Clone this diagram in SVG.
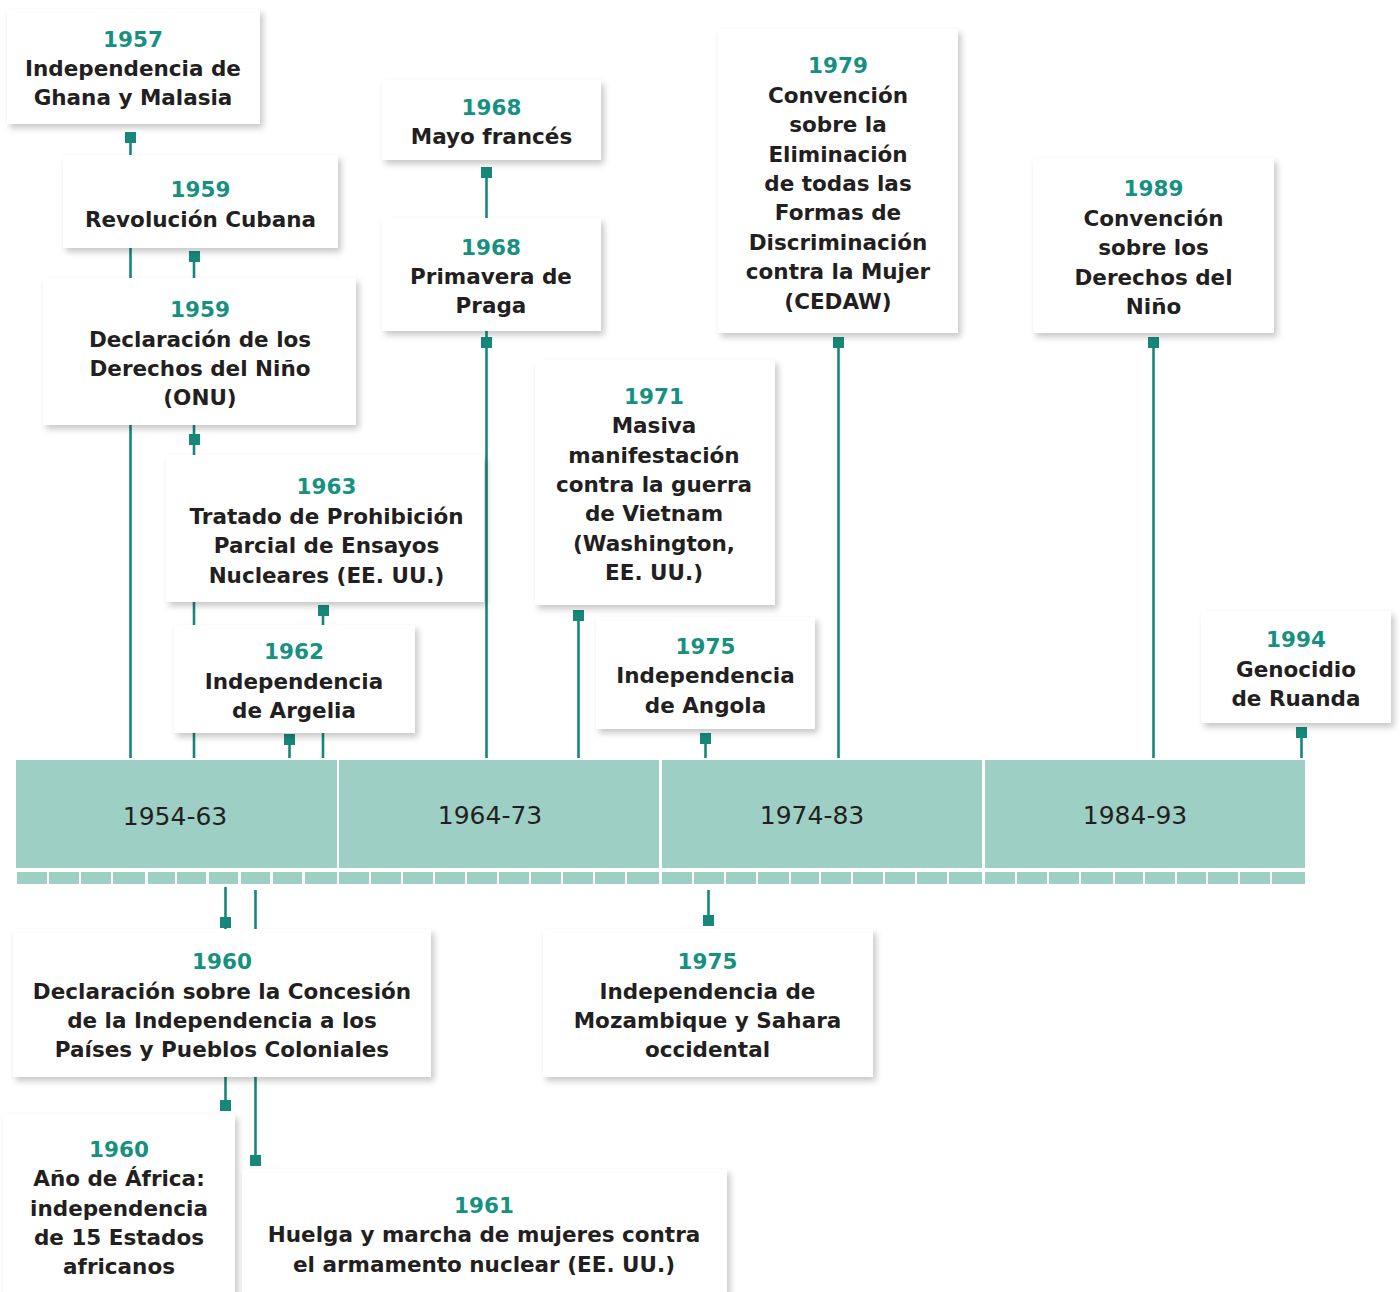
<svg xmlns="http://www.w3.org/2000/svg" width="1400" height="1292" viewBox="0 0 1400 1292">
<style>
.box{fill:#ffffff;filter:url(#sh);}
.t{font-family:"DejaVu Sans","Liberation Sans",sans-serif;font-weight:bold;font-size:21.5px;fill:#231f20;text-anchor:middle;}
.y{fill:#17917f;}
.lbl{font-family:"DejaVu Sans","Liberation Sans",sans-serif;font-size:25px;fill:#231f20;text-anchor:middle;}
.bar{fill:#9ecfc4;}
.tick{fill:#9ecfc4;}
.ln{stroke:#17877a;stroke-width:2.6;fill:none;}
.mk{fill:#17877a;}
</style>
<defs>
<filter id="sh" x="-10%" y="-10%" width="125%" height="130%">
<feDropShadow dx="3" dy="4" stdDeviation="3" flood-color="#000000" flood-opacity="0.22"/>
</filter>
</defs>
<rect x="0" y="0" width="1400" height="1292" fill="#ffffff"/>

<g id="timeline">
<rect class="bar" x="16" y="760" width="321" height="108"/>
<rect class="bar" x="339" y="760" width="320" height="108"/>
<rect class="bar" x="662" y="760" width="320" height="108"/>
<rect class="bar" x="985" y="760" width="320" height="108"/>
<text class="lbl" x="175" y="825">1954-63</text>
<text class="lbl" x="490" y="824">1964-73</text>
<text class="lbl" x="812" y="824">1974-83</text>
<text class="lbl" x="1135" y="824">1984-93</text>
<g id="ticks">
<rect class="tick" x="17" y="872" width="30" height="12"/>
<rect class="tick" x="49" y="872" width="30" height="12"/>
<rect class="tick" x="81" y="872" width="30" height="12"/>
<rect class="tick" x="113" y="872" width="32" height="12"/>
<rect class="tick" x="148" y="872" width="27" height="12"/>
<rect class="tick" x="177" y="872" width="29" height="12"/>
<rect class="tick" x="209" y="872" width="29" height="12"/>
<rect class="tick" x="241" y="872" width="29" height="12"/>
<rect class="tick" x="273" y="872" width="29" height="12"/>
<rect class="tick" x="305" y="872" width="32" height="12"/>
<rect class="tick" x="339" y="872" width="30" height="12"/>
<rect class="tick" x="371" y="872" width="30" height="12"/>
<rect class="tick" x="403" y="872" width="30" height="12"/>
<rect class="tick" x="435" y="872" width="30" height="12"/>
<rect class="tick" x="467" y="872" width="30" height="12"/>
<rect class="tick" x="499" y="872" width="30" height="12"/>
<rect class="tick" x="531" y="872" width="30" height="12"/>
<rect class="tick" x="563" y="872" width="30" height="12"/>
<rect class="tick" x="595" y="872" width="30" height="12"/>
<rect class="tick" x="627" y="872" width="32" height="12"/>
<rect class="tick" x="662" y="872" width="30" height="12"/>
<rect class="tick" x="694" y="872" width="30" height="12"/>
<rect class="tick" x="726" y="872" width="30" height="12"/>
<rect class="tick" x="758" y="872" width="31" height="12"/>
<rect class="tick" x="791" y="872" width="28" height="12"/>
<rect class="tick" x="821" y="872" width="30" height="12"/>
<rect class="tick" x="853" y="872" width="30" height="12"/>
<rect class="tick" x="885" y="872" width="30" height="12"/>
<rect class="tick" x="917" y="872" width="30" height="12"/>
<rect class="tick" x="949" y="872" width="33" height="12"/>
<rect class="tick" x="985" y="872" width="30" height="12"/>
<rect class="tick" x="1017" y="872" width="30" height="12"/>
<rect class="tick" x="1049" y="872" width="30" height="12"/>
<rect class="tick" x="1081" y="872" width="32" height="12"/>
<rect class="tick" x="1115" y="872" width="28" height="12"/>
<rect class="tick" x="1145" y="872" width="30" height="12"/>
<rect class="tick" x="1177" y="872" width="29" height="12"/>
<rect class="tick" x="1208" y="872" width="30" height="12"/>
<rect class="tick" x="1240" y="872" width="30" height="12"/>
<rect class="tick" x="1272" y="872" width="33" height="12"/>
</g>
</g>

<g id="connectors">
<line class="ln" x1="130.5" y1="140" x2="130.5" y2="758"/>
<rect class="mk" x="125" y="132" width="11" height="11"/>
<line class="ln" x1="194" y1="260" x2="194" y2="758"/>
<rect class="mk" x="189" y="251" width="11" height="11"/>
<rect class="mk" x="189" y="434" width="11" height="11"/>
<line class="ln" x1="323" y1="614" x2="323" y2="758"/>
<rect class="mk" x="318" y="605" width="11" height="11"/>
<line class="ln" x1="289.5" y1="743" x2="289.5" y2="758"/>
<rect class="mk" x="284" y="734" width="11" height="11"/>
<line class="ln" x1="486.5" y1="176" x2="486.5" y2="758"/>
<rect class="mk" x="481" y="167" width="11" height="11"/>
<rect class="mk" x="481" y="337" width="11" height="11"/>
<line class="ln" x1="578.5" y1="619" x2="578.5" y2="758"/>
<rect class="mk" x="573" y="610" width="11" height="11"/>
<line class="ln" x1="705.5" y1="742" x2="705.5" y2="758"/>
<rect class="mk" x="700" y="733" width="11" height="11"/>
<line class="ln" x1="838.5" y1="346" x2="838.5" y2="758"/>
<rect class="mk" x="833" y="337" width="11" height="11"/>
<line class="ln" x1="1153.5" y1="346" x2="1153.5" y2="758"/>
<rect class="mk" x="1148" y="337" width="11" height="11"/>
<line class="ln" x1="1301.5" y1="735" x2="1301.5" y2="758"/>
<rect class="mk" x="1296" y="727" width="11" height="11"/>
<line class="ln" x1="225.5" y1="887" x2="225.5" y2="1102"/>
<rect class="mk" x="220" y="917" width="11" height="11"/>
<rect class="mk" x="220" y="1100" width="11" height="11"/>
<line class="ln" x1="255.5" y1="890" x2="255.5" y2="1157"/>
<rect class="mk" x="250" y="1155" width="11" height="11"/>
<line class="ln" x1="708.5" y1="890" x2="708.5" y2="917"/>
<rect class="mk" x="703" y="915" width="11" height="11"/>
</g>

<g id="n1957">
<rect class="box" x="7" y="9" width="253" height="115"/>
<text class="t y" x="133" y="47">1957</text>
<text class="t" x="133" y="76">Independencia de</text>
<text class="t" x="133" y="105">Ghana y Malasia</text>
</g>
<g id="n1959a">
<rect class="box" x="63" y="155" width="275" height="93"/>
<text class="t y" x="200.5" y="197">1959</text>
<text class="t" x="200.5" y="227">Revolución Cubana</text>
</g>
<g id="n1959b">
<rect class="box" x="43" y="278" width="313" height="147"/>
<text class="t y" x="200" y="317">1959</text>
<text class="t" x="200" y="346.5">Declaración de los</text>
<text class="t" x="200" y="376">Derechos del Niño</text>
<text class="t" x="200" y="405">(ONU)</text>
</g>
<g id="n1963">
<rect class="box" x="166" y="455" width="318" height="147"/>
<text class="t y" x="326.5" y="494">1963</text>
<text class="t" x="326.5" y="523.5">Tratado de Prohibición</text>
<text class="t" x="326.5" y="553">Parcial de Ensayos</text>
<text class="t" x="326.5" y="582.5">Nucleares (EE. UU.)</text>
</g>
<g id="n1962">
<rect class="box" x="174" y="625" width="241" height="108"/>
<text class="t y" x="294" y="659">1962</text>
<text class="t" x="294" y="689">Independencia</text>
<text class="t" x="294" y="718">de Argelia</text>
</g>
<g id="n1968a">
<rect class="box" x="382" y="80" width="219" height="80"/>
<text class="t y" x="491.5" y="115">1968</text>
<text class="t" x="491.5" y="144">Mayo francés</text>
</g>
<g id="n1968b">
<rect class="box" x="382" y="218" width="219" height="113"/>
<text class="t y" x="491" y="255">1968</text>
<text class="t" x="491" y="284">Primavera de</text>
<text class="t" x="491" y="313">Praga</text>
</g>
<g id="n1971">
<rect class="box" x="535" y="360" width="240" height="245"/>
<text class="t y" x="654" y="404">1971</text>
<text class="t" x="654" y="433.3">Masiva</text>
<text class="t" x="654" y="462.6">manifestación</text>
<text class="t" x="654" y="491.9">contra la guerra</text>
<text class="t" x="654" y="521.2">de Vietnam</text>
<text class="t" x="654" y="550.5">(Washington,</text>
<text class="t" x="654" y="579.8">EE. UU.)</text>
</g>
<g id="n1975a">
<rect class="box" x="596" y="617" width="219" height="112"/>
<text class="t y" x="705.5" y="654">1975</text>
<text class="t" x="705.5" y="683.3">Independencia</text>
<text class="t" x="705.5" y="712.6">de Angola</text>
</g>
<g id="n1979">
<rect class="box" x="718" y="29" width="240" height="304"/>
<text class="t y" x="838" y="73.3">1979</text>
<text class="t" x="838" y="102.7">Convención</text>
<text class="t" x="838" y="132.1">sobre la</text>
<text class="t" x="838" y="161.5">Eliminación</text>
<text class="t" x="838" y="190.9">de todas las</text>
<text class="t" x="838" y="220.3">Formas de</text>
<text class="t" x="838" y="249.7">Discriminación</text>
<text class="t" x="838" y="279.1">contra la Mujer</text>
<text class="t" x="838" y="308.5">(CEDAW)</text>
</g>
<g id="n1989">
<rect class="box" x="1033" y="158" width="241" height="175"/>
<text class="t y" x="1153.5" y="196">1989</text>
<text class="t" x="1153.5" y="225.5">Convención</text>
<text class="t" x="1153.5" y="255">sobre los</text>
<text class="t" x="1153.5" y="284.5">Derechos del</text>
<text class="t" x="1153.5" y="314">Niño</text>
</g>
<g id="n1994">
<rect class="box" x="1201" y="611" width="190" height="112"/>
<text class="t y" x="1296" y="647">1994</text>
<text class="t" x="1296" y="676.5">Genocidio</text>
<text class="t" x="1296" y="706">de Ruanda</text>
</g>
<g id="n1960a">
<rect class="box" x="13" y="929" width="418" height="148"/>
<text class="t y" x="222" y="969">1960</text>
<text class="t" x="222" y="998.5">Declaración sobre la Concesión</text>
<text class="t" x="222" y="1028">de la Independencia a los</text>
<text class="t" x="222" y="1057">Países y Pueblos Coloniales</text>
</g>
<g id="n1975b">
<rect class="box" x="543" y="929" width="330" height="148"/>
<text class="t y" x="707.5" y="969">1975</text>
<text class="t" x="707.5" y="998.5">Independencia de</text>
<text class="t" x="707.5" y="1028">Mozambique y Sahara</text>
<text class="t" x="707.5" y="1057">occidental</text>
</g>
<g id="n1960b">
<rect class="box" x="3" y="1114" width="232" height="200"/>
<text class="t y" x="119" y="1156.5">1960</text>
<text class="t" x="119" y="1186">Año de África:</text>
<text class="t" x="119" y="1215.5">independencia</text>
<text class="t" x="119" y="1245">de 15 Estados</text>
<text class="t" x="119" y="1274">africanos</text>
</g>
<g id="n1961">
<rect class="box" x="242" y="1169" width="485" height="145"/>
<text class="t y" x="484" y="1212.5">1961</text>
<text class="t" x="484" y="1242">Huelga y marcha de mujeres contra</text>
<text class="t" x="484" y="1271.5">el armamento nuclear (EE. UU.)</text>
</g>
</svg>
